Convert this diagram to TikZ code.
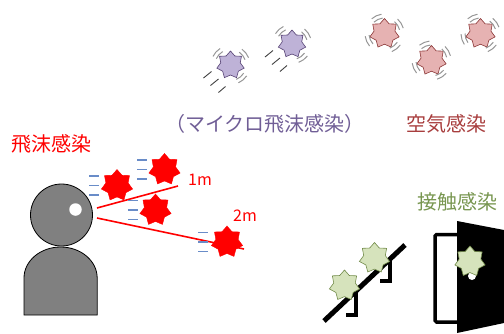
\documentclass[tikz,border=0pt]{standalone}
\usepackage{fontspec}
\setmainfont{Noto Sans CJK JP}
\usetikzlibrary{shapes.geometric}

\definecolor{dropred}{RGB}{255,0,0}
\definecolor{dashblue}{RGB}{105,140,200}
\definecolor{bodygray}{RGB}{128,128,128}
\definecolor{microtext}{RGB}{112,94,150}
\definecolor{microfill}{RGB}{190,178,215}
\definecolor{microedge}{RGB}{85,65,115}
\definecolor{airtext}{RGB}{168,62,62}
\definecolor{airfill}{RGB}{230,178,178}
\definecolor{airedge}{RGB}{140,55,55}
\definecolor{touchtext}{RGB}{120,150,80}
\definecolor{touchfill}{RGB}{214,227,188}
\definecolor{touchedge}{RGB}{115,140,75}
\definecolor{shakegray}{RGB}{150,150,150}

% a few arcs around a germ, one pair per listed angle
\newcommand\shakearcs[2]{%
  \foreach \a in {#2}{%
    \draw[shakeline] (#1.center) ++(\a-18:15.5) arc[start angle=\a-18,end angle=\a+18,radius=15.5];
    \draw[shakeline] (#1.center) ++(\a-16:19.5) arc[start angle=\a-16,end angle=\a+16,radius=19.5];
  }}
% three short dashes trailing a droplet
\newcommand\trail[4]{%
  \draw[trailline] (#1.center) ++(#2,-9.5) -- ++(10,0);
  \draw[trailline] (#1.center) ++(#3,0) -- ++(10,0);
  \draw[trailline] (#1.center) ++(#4,9.5) -- ++(10,0);}

\begin{document}
\begin{tikzpicture}[x=1pt,y=-1pt,
  germshape/.style={star, star points=7, star point ratio=1.4, inner sep=0pt},
  redgerm/.style={germshape, minimum size=32pt, fill=dropred, draw=dropred, line width=0.4pt},
  microgerm/.style={germshape, minimum size=28pt, fill=microfill, draw=microedge, line width=0.6pt},
  airgerm/.style={germshape, minimum size=30pt, fill=airfill, draw=airedge, line width=0.6pt},
  touchgerm/.style={germshape, minimum size=31pt, fill=touchfill, draw=touchedge, line width=0.6pt},
  shakeline/.style={draw=shakegray, line width=1pt},
  motion/.style={draw=black!75, line width=0.9pt},
  trailline/.style={draw=dashblue, line width=1.3pt},
  reach/.style={draw=dropred, line width=1.6pt},
  label/.style={inner sep=0pt, font=\fontsize{20}{22}\selectfont},
  dist/.style={inner sep=0pt, text=dropred, font=\fontsize{16}{18}\selectfont},
  rail/.style={draw=black, line width=5pt},
  bracket/.style={draw=black, line width=4pt, miter limit=4},
]
\useasboundingbox (0,0) rectangle (504,333);

% ---- titles ----
\node[label, text=dropred] (tDroplet) at (52,144) {飛沫感染};
\node[label, text=microtext] (tMicro) at (265,124) {（マイクロ飛沫感染）};
\node[label, text=airtext] (tAir) at (446,124) {空気感染};
\node[label, text=touchtext] (tTouch) at (457,202) {接触感染};

% ---- person ----
\filldraw[fill=bodygray, draw=black, line width=0.8pt]
  (24,315) -- (24,278) arc[start angle=180, end angle=360, x radius=36.6, y radius=31] -- (97.2,315) -- cycle;
\node[circle, fill=bodygray, draw=black, line width=0.8pt, minimum size=62pt, inner sep=0pt] (head) at (61.5,215) {};
\node[circle, fill=white, inner sep=0pt, minimum size=12.5pt] (eye) at (75.5,209.5) {};

% ---- droplet reach lines ----
\coordinate (mouthUp) at (97,208);
\coordinate (mouthLow) at (97,218);
\coordinate (oneMeter) at (178,186);
\coordinate (twoMeter) at (244,249);
\draw[reach] (mouthUp) -- (oneMeter);
\draw[reach] (mouthLow) -- (twoMeter);
\node[dist] (m1) at (200,180) {1m};
\node[dist] (m2) at (245,216) {2m};

% ---- droplets ----
\node[redgerm] (d1) at (117,185.5) {};
\node[redgerm] (d2) at (164.5,169.5) {};
\node[redgerm] (d3) at (155.5,210) {};
\node[redgerm] (d4) at (227,242) {};
\trail{d1}{-28}{-28}{-28}
\trail{d2}{-27.5}{-27.5}{-27.5}
\trail{d3}{-27.5}{-27.5}{-27.5}
\trail{d4}{-29}{-29}{-29}

% ---- micro droplets ----
\node[microgerm] (p1) at (230.5,65) {};
\node[microgerm] (p2) at (292,44) {};
\shakearcs{p1}{222,322,50}
\shakearcs{p2}{228,326,54}
\foreach \g in {p1,p2}{
  \draw[motion] (\g.center) ++(-27,13) -- ++(8,-6.5);
  \draw[motion] (\g.center) ++(-20,20.5) -- ++(8,-6.5);
  \draw[motion] (\g.center) ++(-12,27.5) -- ++(7,-6);
}

% ---- airborne ----
\node[airgerm] (a1) at (384.5,33.5) {};
\node[airgerm] (a2) at (431.5,60.5) {};
\node[airgerm] (a3) at (480.5,33.5) {};
\shakearcs{a1}{245,328,156,52}
\shakearcs{a2}{248,330,156,57}
\shakearcs{a3}{245,325,162,52}

% ---- handrail ----
\coordinate (railLow) at (324,321);
\coordinate (railHigh) at (405,245);
\draw[bracket] (356,291) -- (356,315) -- (346,315);
\draw[bracket] (390,258) -- (390,281) -- (380,281);
\draw[rail] (railLow) -- (railHigh);
\node[touchgerm] (g1) at (374.5,258) {};
\node[touchgerm] (g2) at (344.5,285.5) {};

% ---- door ----
\draw[draw=black, fill=white, line width=3.5pt, rounded corners=1.5pt] (435,234.5) rectangle (475,322);
\fill[black] (457,221) -- (504,230) -- (504,323) -- (457,333) -- cycle;
\node[circle, fill=white, inner sep=0pt, minimum size=8pt] (knob) at (472,276) {};
\node[touchgerm] (g3) at (470,261.5) {};
\end{tikzpicture}
\end{document}
